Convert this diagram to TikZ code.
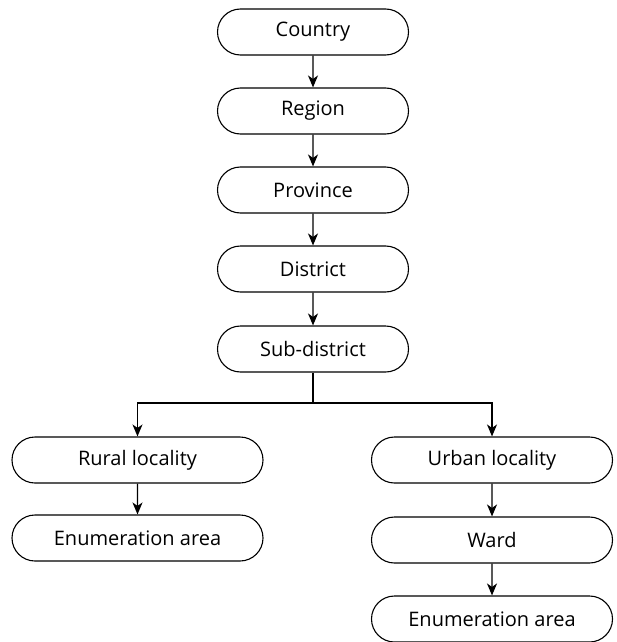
\documentclass[tikz,border=0pt]{standalone}
\usepackage{fontspec}
\setmainfont{Open Sans}
\usetikzlibrary{arrows.meta,shapes.misc}
\begin{document}
\begin{tikzpicture}[x=1pt,y=-1pt,
  levelbox/.style={draw,line width=1.1pt,rounded rectangle,rounded rectangle arc length=180,minimum height=46pt,inner sep=0pt,font=\fontsize{20}{23}\selectfont,text=black},
  narrow/.style={levelbox,minimum width=191pt},
  wide/.style={levelbox,minimum width=251pt},
  conn/.style={line width=1.3pt,draw=black,-{Stealth[length=12pt,width=10pt,inset=3.5pt]}},
  plain/.style={line width=1.3pt,draw=black}]
\useasboundingbox (0,0) rectangle (616,642);
\node[narrow] (country) at (313,32) {Country};
\node[narrow] (region) at (313,111) {Region};
\node[narrow] (province) at (313,190) {Province};
\node[narrow] (district) at (313,269) {District};
\node[narrow] (sub) at (313,349) {Sub-district};
\node[wide] (rural) at (137.5,460) {Rural locality};
\node[wide] (enuml) at (137.5,538) {Enumeration area};
\node[levelbox,minimum width=241pt] (urban) at (492,460) {Urban locality};
\node[levelbox,minimum width=241pt] (ward) at (492,540) {Ward};
\node[levelbox,minimum width=241pt] (enumr) at (492,619) {Enumeration area};
\coordinate (split) at (313,403);
\draw[conn] (country) -- (region);
\draw[conn] (region) -- (province);
\draw[conn] (province) -- (district);
\draw[conn] (district) -- (sub);
\draw[plain] (sub) -- (split);
\draw[conn] (split) -| (rural);
\draw[conn] (split) -| (urban);
\draw[conn] (rural) -- (enuml);
\draw[conn] (urban) -- (ward);
\draw[conn] (ward) -- (enumr);
\end{tikzpicture}
\end{document}
